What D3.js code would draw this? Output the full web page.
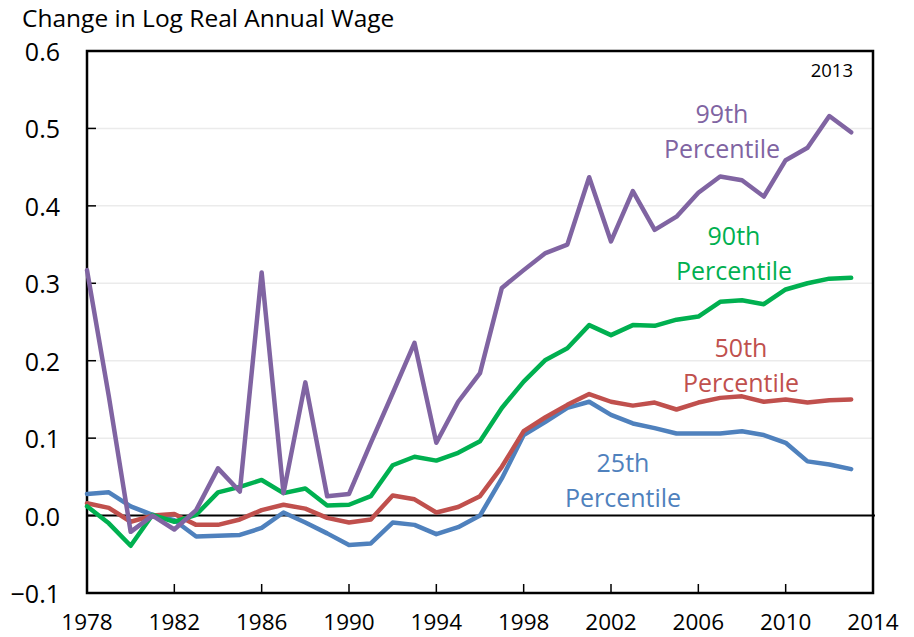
<!DOCTYPE html>
<html>
<head>
<meta charset="utf-8">
<script src="https://cdn.jsdelivr.net/npm/d3@7"></script>
<style>
  body { margin: 0; background: #fff; }
  svg { display: block; font-family: "Open Sans", sans-serif; }
</style>
</head>
<body>
<div id="chart"></div>
<script>
const years = d3.range(1978, 2014);

const p25 = [0.028, 0.030, 0.012, 0.001, -0.006, -0.027, -0.026, -0.025, -0.016, 0.004,
  -0.009, -0.023, -0.038, -0.036, -0.009, -0.012, -0.024, -0.015, 0.000, 0.048,
  0.104, 0.121, 0.139, 0.147, 0.130, 0.119, 0.113, 0.106, 0.106, 0.106,
  0.109, 0.104, 0.094, 0.070, 0.066, 0.060];

const p50 = [0.016, 0.010, -0.008, 0.000, 0.002, -0.012, -0.012, -0.005, 0.007, 0.014,
  0.009, -0.003, -0.009, -0.005, 0.026, 0.021, 0.004, 0.011, 0.025, 0.063,
  0.109, 0.127, 0.143, 0.157, 0.147, 0.142, 0.146, 0.137, 0.146, 0.152,
  0.154, 0.147, 0.150, 0.146, 0.149, 0.150];

const p90 = [0.012, -0.010, -0.039, 0.001, -0.008, 0.001, 0.030, 0.037, 0.046, 0.029,
  0.035, 0.013, 0.014, 0.025, 0.065, 0.076, 0.071, 0.081, 0.096, 0.139,
  0.173, 0.201, 0.216, 0.246, 0.233, 0.246, 0.245, 0.253, 0.257, 0.276,
  0.278, 0.273, 0.292, 0.300, 0.306, 0.307];

const p99 = [0.317, 0.154, -0.021, 0.000, -0.018, 0.007, 0.061, 0.031, 0.314, 0.029,
  0.172, 0.025, 0.028, 0.094, 0.158, 0.223, 0.094, 0.147, 0.184, 0.294,
  0.317, 0.339, 0.350, 0.437, 0.354, 0.419, 0.369, 0.386, 0.417, 0.438,
  0.433, 0.412, 0.459, 0.475, 0.516, 0.495];

const seriesNames = ["25th", "50th", "90th", "99th"];
const yTicks = [-0.1, 0.0, 0.1, 0.2, 0.3, 0.4, 0.5, 0.6];
const xTicks = [1978, 1982, 1986, 1990, 1994, 1998, 2002, 2006, 2010, 2014];

const series = [
  { name: "25th", values: p25, color: "#4F81BD", lx: 623, ly: 462 },
  { name: "50th", values: p50, color: "#C0504D", lx: 741, ly: 347 },
  { name: "90th", values: p90, color: "#00B050", lx: 734, ly: 235 },
  { name: "99th", values: p99, color: "#8064A2", lx: 722, ly: 113 }
];

const W = 914, H = 637;
const margin = { top: 51, right: 41, bottom: 44, left: 87 };
const width = W - margin.left - margin.right;
const height = H - margin.top - margin.bottom;

const x = d3.scaleLinear().domain([1978, 2014]).range([0, width]);
const y = d3.scaleLinear().domain([-0.1, 0.6]).range([height, 0]);

const svg = d3.select("#chart").append("svg")
  .attr("width", W)
  .attr("height", H);

svg.append("text")
  .attr("x", 22)
  .attr("y", 17)
  .attr("dominant-baseline", "central")
  .style("font-size", "24.5px")
  .attr("fill", "#000")
  .text("Change in Log Real Annual Wage");

const g = svg.append("g")
  .attr("transform", "translate(" + margin.left + "," + margin.top + ")");

// light gridlines
g.selectAll(".grid")
  .data(yTicks.filter(d => d > 0 && d < 0.6))
  .enter().append("line")
  .attr("x1", 0).attr("x2", width)
  .attr("y1", d => y(d)).attr("y2", d => y(d))
  .attr("stroke", "#ebebeb")
  .attr("stroke-width", 1.5);

// y axis labels + inner ticks
g.selectAll(".ytick")
  .data(yTicks)
  .enter().append("line")
  .attr("x1", 0).attr("x2", 9)
  .attr("y1", d => y(d)).attr("y2", d => y(d))
  .attr("stroke", "#000")
  .attr("stroke-width", 1.5);

g.selectAll(".ylab")
  .data(yTicks)
  .enter().append("text")
  .attr("x", -27)
  .attr("y", d => y(d))
  .attr("text-anchor", "end")
  .attr("dominant-baseline", "central")
  .style("font-size", "25px")
  .text(d => d3.format(".1f")(d));

// x axis ticks (pointing up) + labels
g.selectAll(".xtick")
  .data(xTicks)
  .enter().append("line")
  .attr("x1", d => x(d)).attr("x2", d => x(d))
  .attr("y1", height).attr("y2", height - 9)
  .attr("stroke", "#000")
  .attr("stroke-width", 1.5);

g.selectAll(".xlab")
  .data(xTicks)
  .enter().append("text")
  .attr("x", d => x(d))
  .attr("y", height + 37)
  .attr("text-anchor", "middle")
  .style("font-size", "22.5px")
  .text(d => d);

// frame
g.append("rect")
  .attr("x", 0).attr("y", 0)
  .attr("width", width).attr("height", height)
  .attr("fill", "none")
  .attr("stroke", "#000")
  .attr("stroke-width", 2.5);

// zero line
g.append("line")
  .attr("x1", 0).attr("x2", width + 2)
  .attr("y1", y(0)).attr("y2", y(0))
  .attr("stroke", "#000")
  .attr("stroke-width", 2);

const line = d3.line()
  .x((d, i) => x(years[i]))
  .y(d => y(d));

g.selectAll(".series")
  .data(series)
  .enter().append("path")
  .attr("d", d => line(d.values))
  .attr("fill", "none")
  .attr("stroke", d => d.color)
  .attr("stroke-width", 4.5)
  .attr("stroke-linejoin", "round")
  .attr("stroke-linecap", "round");

// series labels
series.forEach(s => {
  const t = svg.append("text")
    .attr("text-anchor", "middle")
    .attr("fill", s.color)
    .style("font-size", "25px");
  t.append("tspan")
    .attr("x", s.lx).attr("y", s.ly)
    .attr("dominant-baseline", "central")
    .text(s.name);
  t.append("tspan")
    .attr("x", s.lx).attr("y", s.ly + 35)
    .attr("dominant-baseline", "central")
    .text("Percentile");
});

svg.append("text")
  .attr("x", 853)
  .attr("y", 69)
  .attr("text-anchor", "end")
  .attr("dominant-baseline", "central")
  .style("font-size", "18.5px")
  .text("2013");
</script>
</body>
</html>
